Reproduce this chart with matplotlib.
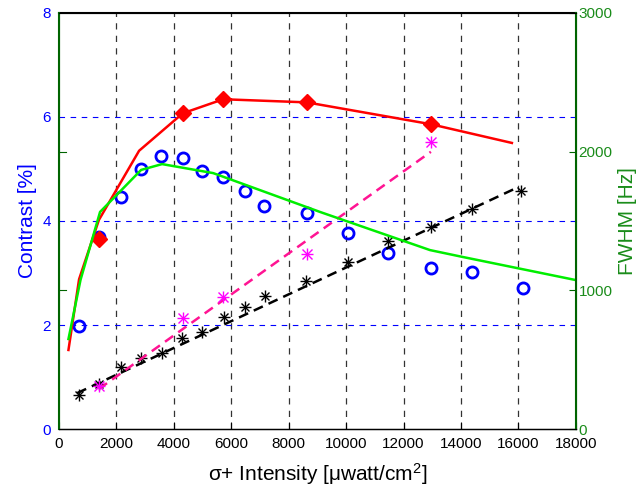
import numpy as np
import matplotlib
matplotlib.use("Agg")
import matplotlib.pyplot as plt

plt.rcParams['font.family'] = ['Liberation Sans', 'DejaVu Sans']
plt.rcParams['mathtext.default'] = 'regular'

# contrast (blue circles)
circ_x = [700, 1390, 2160, 2860, 3550, 4310, 4990, 5720, 6470, 7150, 8630,
          10060, 11460, 12950, 14380, 16150]
circ_y = [1.98, 3.69, 4.46, 5.0, 5.25, 5.21, 4.96, 4.84, 4.58, 4.29, 4.16,
          3.77, 3.39, 3.1, 3.02, 2.71]

# red line with diamonds
red_x = [330, 700, 1390, 2790, 4310, 5720, 8630, 12950, 15770]
red_y = [1.52, 2.88, 4.02, 5.35, 6.07, 6.34, 6.28, 5.86, 5.5]
dia_x = [1390, 4310, 5720, 8630, 12950]
dia_y = [3.65, 6.07, 6.34, 6.28, 5.86]

# black stars + dashed fit
blk_x = [700, 1390, 2160, 2860, 3590, 4290, 4980, 5750, 6480, 7170, 8600,
         10060, 11460, 12950, 14380, 16090]
blk_y = [0.65, 0.87, 1.19, 1.37, 1.46, 1.75, 1.87, 2.16, 2.35, 2.56, 2.85,
         3.21, 3.62, 3.88, 4.23, 4.58]
blk_fit_x = [630, 15950]
blk_fit_y = [0.69, 4.64]

# magenta stars + dashed fit
mag_x = [1390, 4310, 5710, 8630, 12950]
mag_y = [0.83, 2.13, 2.54, 3.37, 5.52]
mag_fit_x = [1390, 12950]
mag_fit_y = [0.77, 5.33]

# FWHM (green, right axis)
fwhm_x = [330, 750, 1430, 2860, 3590, 5370, 9090, 12920, 14070, 17970]
fwhm_y = [649, 1075, 1565, 1868, 1910, 1845, 1565, 1290, 1240, 1075]

dgreen = '#006400'

fig = plt.figure(figsize=(6.39, 4.96), dpi=100)
ax = fig.add_axes([0.0923, 0.135, 0.809, 0.839])
ax2 = ax.twinx()

# grid
for xv in range(2000, 18000, 2000):
    ax.axvline(xv, color='0.2', ls=(0, (5, 5)), lw=0.9, zorder=0)
for yv in [2, 4, 6]:
    ax.axhline(yv, color='blue', ls=(0, (5, 5)), lw=0.8, zorder=0)

def asterisk(x, y, col, ms):
    # matlab style '*' marker: plus and cross on top of each other
    ax.plot(x, y, '+', color=col, ms=ms, mew=1.0, ls='none')
    ax.plot(x, y, 'x', color=col, ms=ms * 0.75, mew=1.0, ls='none')

ax.plot(circ_x, circ_y, 'o', mfc='none', mec='blue', mew=2, ms=8)
ax.plot(red_x, red_y, color='red', lw=1.8)
ax.plot(dia_x, dia_y, 'D', color='red', ms=8, mec='red')
ax.plot(blk_fit_x, blk_fit_y, color='black', ls=(0, (4, 2.5)), lw=1.8)
asterisk(blk_x, blk_y, 'black', 8)
ax.plot(mag_fit_x, mag_fit_y, color='#ff1493', ls=(0, (4, 2.5)), lw=1.8)
asterisk(mag_x, mag_y, 'magenta', 9)

ax2.plot(fwhm_x, fwhm_y, color='#00ee00', lw=1.8)

ax.set_xlim(0, 18000)
ax.set_ylim(0, 8)
ax2.set_ylim(0, 3000)
ax.set_xticks(range(0, 18001, 2000))
ax.set_yticks([0, 2, 4, 6, 8])
ax2.set_yticks([0, 1000, 2000, 3000])

ax.tick_params(axis='x', direction='in', colors='black', labelsize=11, length=5, pad=6)
ax.tick_params(axis='y', direction='in', colors='blue', labelsize=11, length=0, pad=6)
ax2.tick_params(axis='y', direction='in', colors=dgreen, labelcolor='#1a8c1a',
                labelsize=11, length=5, pad=2)

for a in (ax, ax2):
    a.spines['left'].set_color(dgreen)
    a.spines['right'].set_color(dgreen)
for s in ['left', 'right']:
    ax2.spines[s].set_linewidth(1.5)
ax.spines['top'].set_linewidth(1.5)
ax.spines['bottom'].set_linewidth(1.0)

# right-axis ticks also show on the left spine
for yv in [1000, 2000]:
    ax2.plot([0, 250], [yv, yv], color=dgreen, lw=0.8, clip_on=False)

ax.set_ylabel('Contrast [%]', color='blue', fontsize=15, labelpad=4)
ax2.set_ylabel('FWHM [Hz]', color='#1a8c1a', fontsize=15, labelpad=4)
ax.set_xlabel('σ+ Intensity [μwatt/cm$^2$]', fontsize=15, labelpad=7)

fig.savefig('out.png', dpi=100)
